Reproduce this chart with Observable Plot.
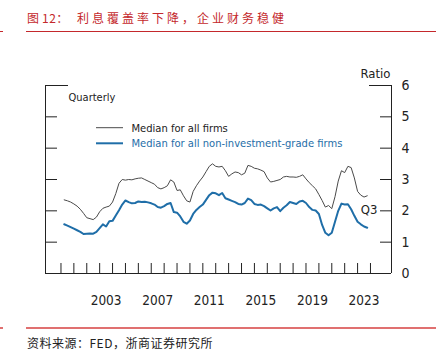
<!DOCTYPE html>
<html>
<head>
<meta charset="utf-8">
<script src="https://cdn.jsdelivr.net/npm/d3@7"></script>
<script src="https://cdn.jsdelivr.net/npm/@observablehq/plot@0.6"></script>
<style>
  body { margin:0; width:448px; height:350px; background:#fff; position:relative; overflow:hidden; }
  .title { position:absolute; left:27px; top:10px; font-family:"Noto Sans CJK SC"; font-size:12px; line-height:16px; color:#c4282c; letter-spacing:3px; white-space:nowrap; }
  .title .num { letter-spacing:0.5px; }
  .rule-top { position:absolute; left:26px; top:31px; width:410px; height:1px; background:#c4282c; }
  .rule-bot { position:absolute; left:26px; top:327px; width:410px; height:1.5px; background:#e07070; }
  .tick-l1 { position:absolute; left:0; top:31px; width:3px; height:1px; background:#c4282c; }
  .tick-l2 { position:absolute; left:0; top:327px; width:3px; height:1.5px; background:#e07070; }
  .source { position:absolute; left:27px; top:335px; font-family:"Noto Sans CJK SC"; font-size:12px; line-height:16px; color:#222; letter-spacing:0.5px; white-space:nowrap; }
  #chart { position:absolute; left:0; top:35px; }
</style>
</head>
<body>
<div class="title">图<span class="num">12</span>：&nbsp;利息覆盖率下降，企业财务稳健</div>
<div class="tick-l1"></div>
<div class="rule-top"></div>
<div id="chart"></div>
<div class="tick-l2"></div>
<div class="rule-bot"></div>
<div class="source">资料来源：FED，浙商证券研究所</div>
<script>
// Quarterly data, 2000Q1 .. 2023Q3 (plotted at quarter end)
const startYear = 2000;
const allFirms = [
  2.35, 2.32, 2.28, 2.22,
  2.15, 2.05, 1.92, 1.78,
  1.75, 1.72, 1.80, 1.97,
  2.08, 2.12, 2.15, 2.28,
  2.55, 2.88, 3.00, 2.98,
  3.00, 2.99, 3.02, 3.04,
  3.05, 3.00, 2.95, 2.90,
  2.85, 2.74, 2.70, 2.74,
  2.80, 2.99, 2.92, 2.65,
  2.67, 2.48, 2.32, 2.28,
  2.62, 2.80, 2.95, 3.08,
  3.25, 3.42, 3.50, 3.42,
  3.40, 3.42, 3.28, 3.10,
  3.18, 3.24, 3.22, 3.15,
  3.20, 3.45, 3.42, 3.36,
  3.34, 3.30, 3.25, 3.05,
  2.92, 2.94, 2.97, 3.00,
  3.08, 3.10, 3.08, 3.08,
  3.07, 3.10, 3.15, 3.02,
  2.90, 2.80, 2.70, 2.52,
  2.33, 2.12, 2.17, 2.07,
  2.45, 2.95, 3.28, 3.22,
  3.42, 3.38, 3.05, 2.62,
  2.50, 2.44, 2.48
];
const nonIG = [
  1.57, 1.53, 1.48, 1.43,
  1.38, 1.33, 1.26, 1.27,
  1.28, 1.27, 1.33, 1.45,
  1.57, 1.50, 1.67, 1.68,
  1.85, 2.02, 2.20, 2.33,
  2.28, 2.24, 2.25, 2.30,
  2.28, 2.29, 2.27, 2.24,
  2.20, 2.12, 2.10, 2.15,
  2.22, 2.25, 1.96, 1.94,
  1.82, 1.65, 1.59, 1.69,
  1.90, 2.03, 2.12, 2.20,
  2.35, 2.50, 2.58, 2.56,
  2.50, 2.57, 2.40, 2.36,
  2.32, 2.28, 2.22, 2.20,
  2.25, 2.39, 2.34, 2.22,
  2.19, 2.20, 2.15, 2.08,
  2.01, 2.08, 2.12, 1.99,
  2.10, 2.18, 2.28, 2.25,
  2.22, 2.30, 2.32, 2.25,
  2.12, 2.03, 2.01, 1.90,
  1.55, 1.30, 1.22, 1.30,
  1.65, 2.00, 2.23, 2.20,
  2.21, 2.05, 1.84, 1.65,
  1.57, 1.50, 1.46
];
const yearTicks = d3.range(2000, 2025);
const yearLabels = [2003, 2007, 2011, 2015, 2019, 2023];
const yTicks = [0, 1, 2, 3, 4, 5, 6];
const innerTicks = [1, 2, 3, 4, 5];
const seriesNames = ["Median for all firms", "Median for all non-investment-grade firms"];
const lastLabel = "Q3";

const xDomain = [1998.8, 2025.63];
const yDomain = [0, 6];
const grayColor = "#4a4a4a";
const blueColor = "#1f6ea8";
const font = "DejaVu Sans Condensed";

const rowsA = allFirms.map((v, i) => ({t: startYear + (i + 1) / 4, v}));
const rowsB = nonIG.map((v, i) => ({t: startYear + (i + 1) / 4, v}));

const chart = Plot.plot({
  width: 448,
  height: 280,
  marginLeft: 45,
  marginRight: 57,
  marginTop: 50,
  marginBottom: 42,
  style: {fontFamily: font, fontSize: "14px", color: "#222", background: "transparent", overflow: "visible"},
  x: {domain: xDomain},
  y: {domain: yDomain},
  marks: [
    // frame
    Plot.ruleX([xDomain[0], xDomain[1]], {y1: yDomain[0], y2: yDomain[1], stroke: "#222", strokeWidth: 1}),
    Plot.ruleY([0], {stroke: "#222", strokeWidth: 1}),
    // left inward ticks
    Plot.axisY({anchor: "left", ticks: innerTicks, tickSize: -12, tickFormat: () => "", label: null, stroke: "#222"}),
    Plot.axisY({anchor: "left", ticks: [6], tickSize: -23, tickFormat: () => "", label: null, stroke: "#222"}),
    // right inward ticks + labels
    Plot.axisY({anchor: "right", ticks: innerTicks, tickSize: -12, tickFormat: () => "", label: null, stroke: "#222"}),
    Plot.axisY({anchor: "right", ticks: [6], tickSize: -23, tickFormat: () => "", label: null, stroke: "#222"}),
    Plot.axisY({anchor: "right", ticks: yTicks, tickSize: 0, tickPadding: 10, tickFormat: d => String(d), label: null, fontSize: 14, fill: "#222"}),
    // bottom inward ticks
    Plot.axisX({anchor: "bottom", ticks: yearTicks, tickSize: -10, tickFormat: () => "", label: null, stroke: "#222"}),
    // year labels centered mid-year
    Plot.text(yearLabels, {x: d => d + 0.5, y: 0, text: d => String(d), dy: 27, fontSize: 13.5, fill: "#222"}),
    // titles
    Plot.text(["Ratio"], {x: xDomain[1], y: 6, text: d => d, textAnchor: "end", dy: -12, dx: -1, fontSize: 13, fill: "#222"}),
    Plot.text(["Quarterly"], {x: xDomain[0], y: 6, text: d => d, textAnchor: "start", dx: 23, dy: 12, fontSize: 11, fill: "#222"}),
    // series
    Plot.line(rowsA, {x: "t", y: "v", stroke: grayColor, strokeWidth: 1}),
    Plot.line(rowsB, {x: "t", y: "v", stroke: blueColor, strokeWidth: 2}),
    Plot.text([lastLabel], {x: xDomain[1], y: (allFirms[allFirms.length - 1] + nonIG[nonIG.length - 1]) / 2, text: d => d, textAnchor: "end", dx: -14, dy: -2, fontSize: 13, fill: "#222"})
  ]
});

// legend
const svg = d3.select(chart);
const leg = svg.append("g").attr("font-family", font).attr("font-size", 11.1).attr("text-anchor", "start");
[[seriesNames[0], grayColor, 1, "#222"], [seriesNames[1], blueColor, 2, blueColor]].forEach(([name, c, w, tc], i) => {
  const y = 92.7 + i * 15.6;
  leg.append("line").attr("x1", 96).attr("x2", 123).attr("y1", y).attr("y2", y).attr("stroke", c).attr("stroke-width", w);
  leg.append("text").attr("x", 131.5).attr("y", y).attr("dy", "0.35em").attr("fill", tc).text(name);
});

document.getElementById("chart").appendChild(chart);
</script>
</body>
</html>
